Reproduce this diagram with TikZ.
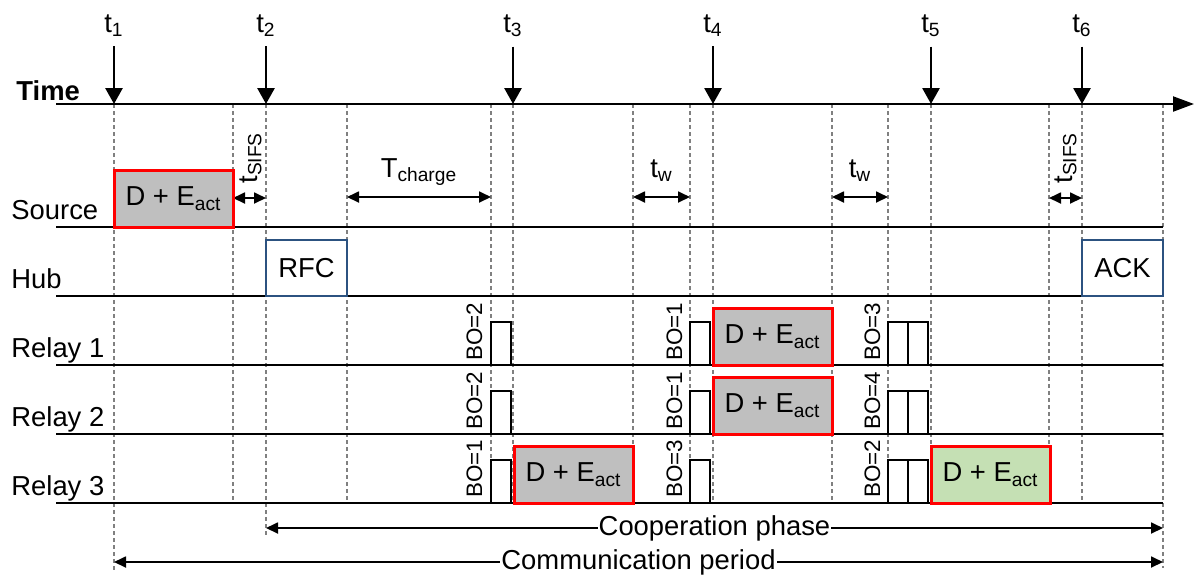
\documentclass[tikz,border=0pt]{standalone}
\usepackage{fontspec}
\setmainfont{Liberation Sans}
\usepackage{xcolor}
\usepackage{tikz}
\usetikzlibrary{arrows.meta,positioning}

\definecolor{hubblue}{RGB}{44,82,128}
\definecolor{pktgreen}{RGB}{197,224,180}
\definecolor{guidegray}{RGB}{128,128,128}

\tikzset{
  guide/.style={guidegray,line width=1pt,dash pattern=on 2pt off 1.5pt},
  rowline/.style={line width=1.1pt},
  tmark/.style={line width=1.4pt,shorten <=1.5pt,-{Triangle[width=8.5pt,length=8pt]}},
  spanarrow/.style={line width=0.9pt,{Triangle[width=5.5pt,length=6pt]}-{Triangle[width=5.5pt,length=6pt]}},
  datapkt/.style={draw=red,line width=1.5pt,fill=gray!50,minimum width=59.5pt,minimum height=28.25pt,anchor=south west,outer sep=0pt,inner sep=0pt},
  ctrlpkt/.style={draw=hubblue,line width=1.4pt,fill=white,minimum width=40.5pt,minimum height=28pt,anchor=south west,outer sep=0pt,inner sep=0pt},
  slot/.style={draw,line width=1pt,fill=white,minimum width=10pt,minimum height=21.5pt,anchor=south west,outer sep=0pt,inner sep=0pt},
  bolabel/.style={rotate=90,anchor=base west,inner sep=0pt,font=\fontsize{11.2}{13}\selectfont},
  rowlabel/.style={anchor=base west,inner sep=0pt}
}

\begin{document}
\begin{tikzpicture}[x=0.5pt,y=-0.5pt,font=\fontsize{13.7}{16}\selectfont]
			\useasboundingbox (0,0) rectangle (1194,575);

			% ---------------- Guide lines ----------------
			\draw[guide] (114,104) -- (114,572);
			\draw[guide] (233,104) -- (233,503);
			\draw[guide] (266,104) -- (266,538);
			\draw[guide] (347,104) -- (347,503);
			\draw[guide] (491,104) -- (491,503);
			\draw[guide] (513,104) -- (513,503);
			\draw[guide] (633,104) -- (633,503);
			\draw[guide] (690,104) -- (690,503);
			\draw[guide] (713,104) -- (713,503);
			\draw[guide] (832,104) -- (832,503);
			\draw[guide] (888,104) -- (888,503);
			\draw[guide] (931,104) -- (931,503);
			\draw[guide] (1049,104) -- (1049,503);
			\draw[guide] (1082,104) -- (1082,503);
			\draw[guide] (1163,104) -- (1163,568);

			% ---------------- Time axis ----------------
			\node[rowlabel] (time) at (16,100) {\textbf{Time}};
			\coordinate (axstart) at (56,104);
			\coordinate (axend) at (1194,104);
			\draw[line width=1.1pt,-{Triangle[width=7.5pt,length=10.5pt]}] (axstart) -- (axend);

			% Instants
			\node[anchor=base] (t1) at (114,32) {t\textsubscript{1}};
			\node[anchor=base] (t2) at (266,32) {t\textsubscript{2}};
			\node[anchor=base] (t3) at (513,32) {t\textsubscript{3}};
			\node[anchor=base] (t4) at (713,32) {t\textsubscript{4}};
			\node[anchor=base] (t5) at (931,32) {t\textsubscript{5}};
			\node[anchor=base] (t6) at (1082,32) {t\textsubscript{6}};
			\coordinate (m1) at (114,104);
			\coordinate (m2) at (266,104);
			\coordinate (m3) at (513,104);
			\coordinate (m4) at (713,104);
			\coordinate (m5) at (931,104);
			\coordinate (m6) at (1082,104);
			\draw[tmark] (t1.south) -- (m1);
			\draw[tmark] (t2.south) -- (m2);
			\draw[tmark] (t3.south) -- (m3);
			\draw[tmark] (t4.south) -- (m4);
			\draw[tmark] (t5.south) -- (m5);
			\draw[tmark] (t6.south) -- (m6);

			% ---------------- Rows ----------------
			\node[rowlabel] (source) at (11,219) {Source};
			\node[rowlabel] (hub) at (11,288) {Hub};
			\node[rowlabel] (relay1) at (11,357) {Relay 1};
			\node[rowlabel] (relay2) at (11,426) {Relay 2};
			\node[rowlabel] (relay3) at (11,495) {Relay 3};
			\draw[rowline] (56,227) -- (1163,227);
			\draw[rowline] (56,296) -- (1163,296);
			\draw[rowline] (56,365) -- (1163,365);
			\draw[rowline] (56,434) -- (1163,434);
			\draw[rowline] (56,503) -- (1163,503);

			% ---------------- Intervals ----------------
			\coordinate (sifsA) at (233,198);
			\coordinate (sifsB) at (266,198);
			\draw[spanarrow] (sifsA) -- (sifsB);
			\node[rotate=90,anchor=base west,inner sep=0pt] (sifs1) at (257,184) {t\textsubscript{SIFS}};

			\coordinate (chgA) at (347,197);
			\coordinate (chgB) at (491,197);
			\draw[spanarrow] (chgA) -- (chgB);
			\node[anchor=base] (tcharge) at (419,177) {T\textsubscript{charge}};

			\coordinate (twA) at (633,197);
			\coordinate (twB) at (690,197);
			\draw[spanarrow] (twA) -- (twB);
			\node[anchor=base] (tw1) at (661.5,177) {t\textsubscript{w}};

			\coordinate (twC) at (832,197);
			\coordinate (twD) at (888,197);
			\draw[spanarrow] (twC) -- (twD);
			\node[anchor=base] (tw2) at (860,177) {t\textsubscript{w}};

			\coordinate (sifsC) at (1049,198);
			\coordinate (sifsD) at (1082,198);
			\draw[spanarrow] (sifsC) -- (sifsD);
			\node[rotate=90,anchor=base west,inner sep=0pt] (sifs2) at (1072,184) {t\textsubscript{SIFS}};

			% ---------------- Packets ----------------
			\node[datapkt] (srcpkt) at (114,227) {D + E\textsubscript{act}};
			\node[ctrlpkt] (rfc) at (266,296) {RFC};
			\node[ctrlpkt] (ack) at (1082,296) {ACK};
			\node[datapkt] (r1pkt) at (713,365) {D + E\textsubscript{act}};
			\node[datapkt] (r2pkt) at (713,434) {D + E\textsubscript{act}};
			\node[datapkt] (r3pkt) at (514,503) {D + E\textsubscript{act}};
			\node[datapkt,fill=pktgreen] (r3win) at (931,503) {D + E\textsubscript{act}};

			% Backoff slots (Relay 1)
			\node[slot] (r1s1) at (491,365) {};
			\node[slot] (r1s2) at (690,365) {};
			\node[slot] (r1s3) at (888,365) {};
			\node[slot] (r1s4) at (908,365) {};
			\node[bolabel] (r1bo1) at (482,361) {BO=2};
			\node[bolabel] (r1bo2) at (682,361) {BO=1};
			\node[bolabel] (r1bo3) at (880,361) {BO=3};

			% Backoff slots (Relay 2)
			\node[slot] (r2s1) at (491,434) {};
			\node[slot] (r2s2) at (690,434) {};
			\node[slot] (r2s3) at (888,434) {};
			\node[slot] (r2s4) at (908,434) {};
			\node[bolabel] (r2bo1) at (482,430) {BO=2};
			\node[bolabel] (r2bo2) at (682,430) {BO=1};
			\node[bolabel] (r2bo3) at (880,430) {BO=4};

			% Backoff slots (Relay 3)
			\node[slot] (r3s1) at (491,503) {};
			\node[slot] (r3s2) at (690,503) {};
			\node[slot] (r3s3) at (888,503) {};
			\node[slot] (r3s4) at (908,503) {};
			\node[bolabel] (r3bo1) at (482,498) {BO=1};
			\node[bolabel] (r3bo2) at (682,498) {BO=3};
			\node[bolabel] (r3bo3) at (880,498) {BO=2};

			% ---------------- Phases ----------------
			\coordinate (coopA) at (266,528);
			\coordinate (coopB) at (1163,528);
			\draw[spanarrow] (coopA) -- node[fill=white,inner sep=0.5pt] (coop) {Cooperation phase} (coopB);
			\coordinate (commA) at (114,562);
			\coordinate (commB) at (1163,562);
			\draw[spanarrow] (commA) -- node[fill=white,inner sep=0.5pt] (comm) {Communication period} (commB);
		\end{tikzpicture}
\end{document}
